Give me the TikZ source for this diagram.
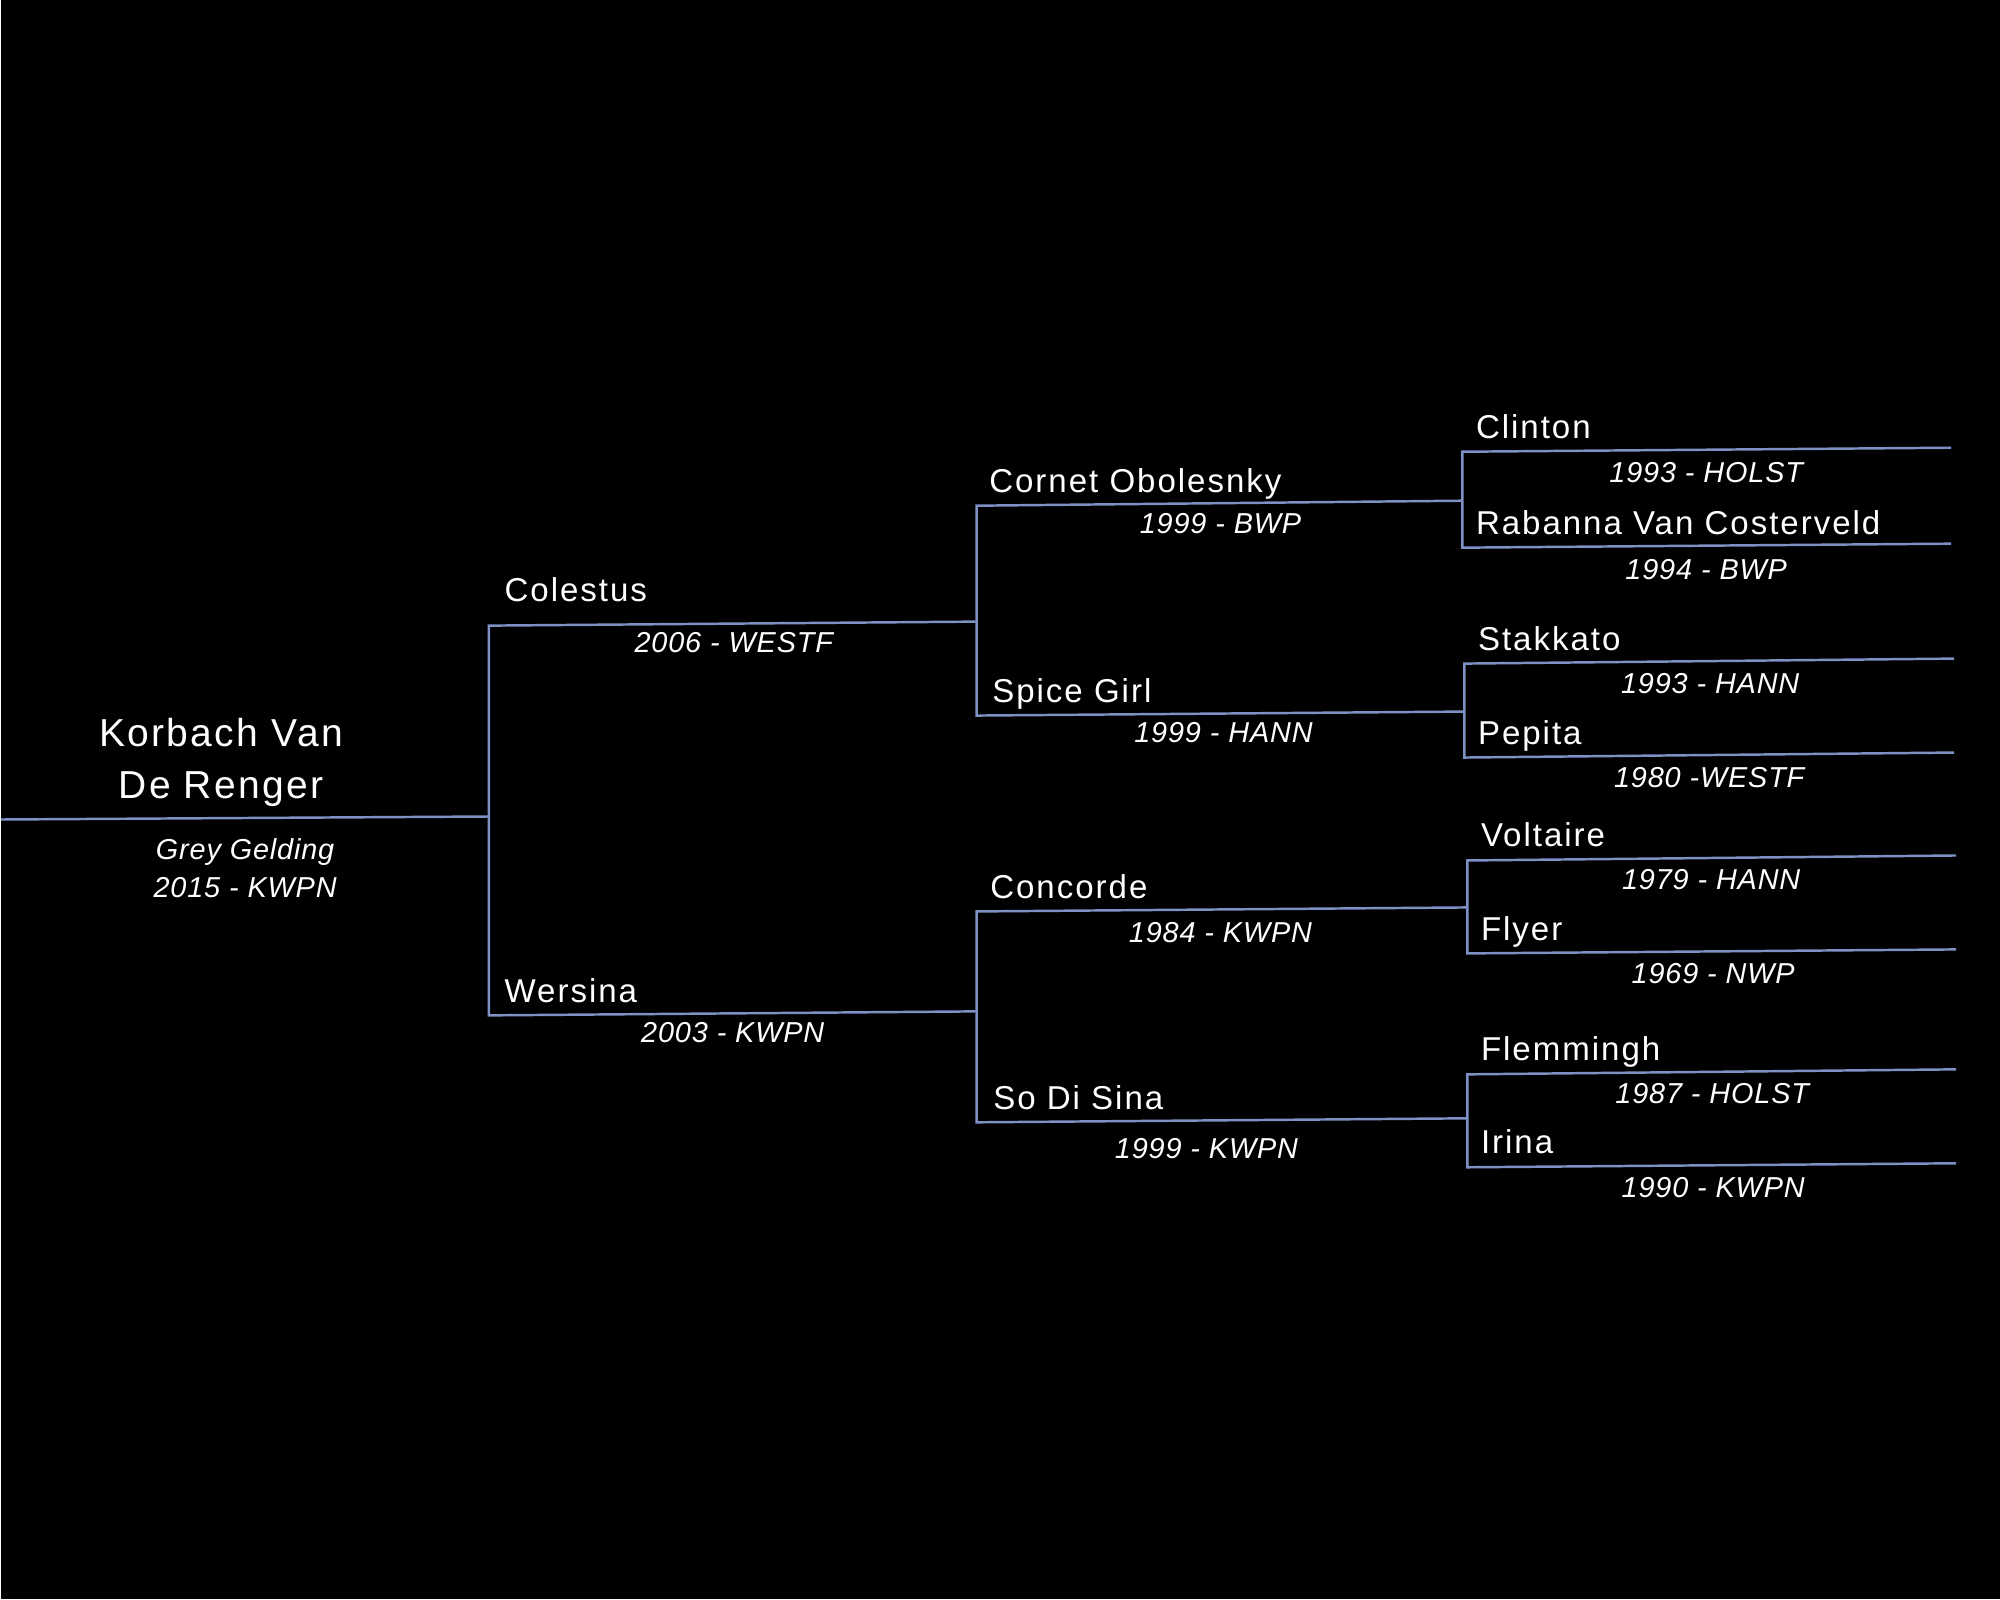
\documentclass[tikz,border=0pt]{standalone}
\usepackage{fontspec}
\setmainfont{Liberation Sans}[LetterSpace=6]
\newfontfamily\datefont{Liberation Sans}[LetterSpace=3]
\usetikzlibrary{positioning, calc}
\definecolor{pedBg}{HTML}{000000}
\definecolor{pedLine}{HTML}{7D91C4}

\begin{document}
\begin{tikzpicture}[
  x=0.01cm, y=-0.01cm,
  horse/.style={anchor=base west, inner sep=0pt, text=white, font=\fontsize{9.4}{11}\selectfont},
  foal/.style={anchor=base, align=center, inner sep=0pt, text=white, font=\fontsize{11.1}{14.7}\selectfont},
  born/.style={anchor=base, align=center, inner sep=0pt, text=white, font=\datefont\itshape\fontsize{8.2}{10.8}\selectfont},
  link/.style={draw=pedLine, line width=0.7pt}
]
\fill[pedBg] (0,0) rectangle (2000,1600);

\coordinate (korA) at (0,820);
\coordinate (korB) at (488,817);
\coordinate (colA) at (488,626);
\coordinate (colB) at (975,622);
\coordinate (werA) at (488,1016);
\coordinate (werB) at (975,1012);
\coordinate (corA) at (976,506);
\coordinate (corB) at (1462,501);
\coordinate (spiA) at (976,716);
\coordinate (spiB) at (1464,712);
\coordinate (conA) at (976,912);
\coordinate (conB) at (1466,908);
\coordinate (sdsA) at (976,1123);
\coordinate (sdsB) at (1467,1119);
\coordinate (cliA) at (1462,452);
\coordinate (cliB) at (1951,448);
\coordinate (rabA) at (1462,548);
\coordinate (rabB) at (1951,544);
\coordinate (staA) at (1464,664);
\coordinate (staB) at (1954,659);
\coordinate (pepA) at (1464,758);
\coordinate (pepB) at (1954,753);
\coordinate (volA) at (1467,861);
\coordinate (volB) at (1956,856);
\coordinate (flyA) at (1467,954);
\coordinate (flyB) at (1956,950);
\coordinate (flmA) at (1467,1075);
\coordinate (flmB) at (1956,1070);
\coordinate (iriA) at (1467,1168);
\coordinate (iriB) at (1956,1164);

\draw[link] (korA) -- (korB);
\draw[link] (colB) -- (colA) -- (werA) -- (werB);
\draw[link] (corB) -- (corA) -- (spiA) -- (spiB);
\draw[link] (conB) -- (conA) -- (sdsA) -- (sdsB);
\draw[link] (cliB) -- (cliA) -- (rabA) -- (rabB);
\draw[link] (staB) -- (staA) -- (pepA) -- (pepB);
\draw[link] (volB) -- (volA) -- (flyA) -- (flyB);
\draw[link] (flmB) -- (flmA) -- (iriA) -- (iriB);

\node[foal] (korbach) at (220,799) {Korbach Van\\De Renger};
\node[born] (korbachInfo) at (244,898) {Grey Gelding\\2015 - KWPN};

\node[horse] (colestus) at (503,602) {Colestus};
\node[born] (colestusInfo) at (733,653) {2006 - WESTF};
\node[horse] (wersina) at (503,1003) {Wersina};
\node[born] (wersinaInfo) at (732,1043) {2003 - KWPN};

\node[horse] (cornet) at (988,493) {Cornet Obolesnky};
\node[born] (cornetInfo) at (1220,534) {1999 - BWP};
\node[horse] (spice) at (991,703) {Spice Girl};
\node[born] (spiceInfo) at (1223,743) {1999 - HANN};
\node[horse] (concorde) at (989,899) {Concorde};
\node[born] (concordeInfo) at (1220,943) {1984 - KWPN};
\node[horse] (sodisina) at (992,1110) {So Di Sina};
\node[born] (sodisinaInfo) at (1206,1159) {1999 - KWPN};

\node[horse] (clinton) at (1475,439) {Clinton};
\node[born] (clintonInfo) at (1706,483) {1993 - HOLST};
\node[horse] (rabanna) at (1475,535) {Rabanna Van Costerveld};
\node[born] (rabannaInfo) at (1706,580) {1994 - BWP};
\node[horse] (stakkato) at (1477,651) {Stakkato};
\node[born] (stakkatoInfo) at (1710,694) {1993 - HANN};
\node[horse] (pepita) at (1477,745) {Pepita};
\node[born] (pepitaInfo) at (1709,788) {1980 -WESTF};
\node[horse] (voltaire) at (1480,847) {Voltaire};
\node[born] (voltaireInfo) at (1711,890) {1979 - HANN};
\node[horse] (flyer) at (1480,941) {Flyer};
\node[born] (flyerInfo) at (1713,984) {1969 - NWP};
\node[horse] (flemmingh) at (1480,1061) {Flemmingh};
\node[born] (flemminghInfo) at (1712,1104) {1987 - HOLST};
\node[horse] (irina) at (1480,1154) {Irina};
\node[born] (irinaInfo) at (1713,1198) {1990 - KWPN};
\end{tikzpicture}
\end{document}
